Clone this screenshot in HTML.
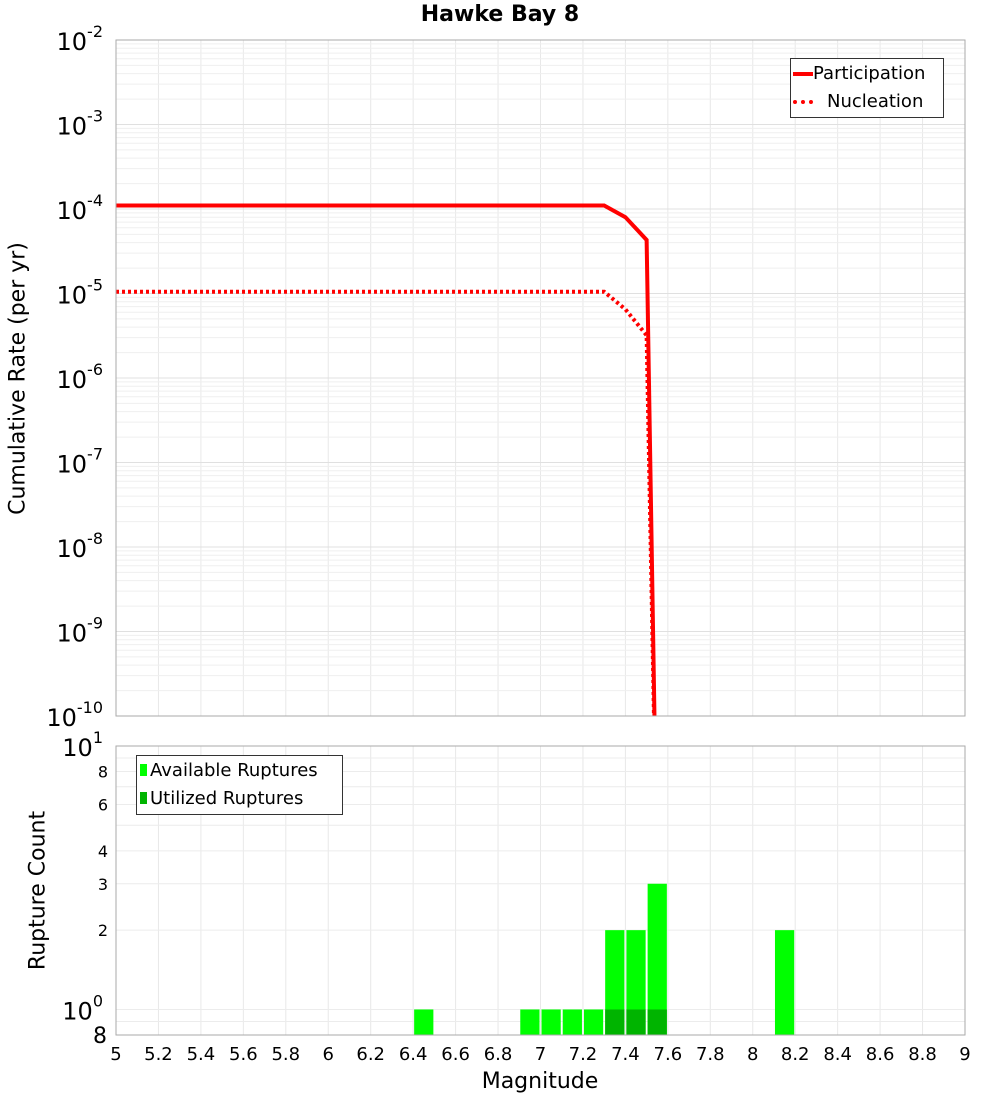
<!DOCTYPE html>
<html><head><meta charset="utf-8"><style>
body{margin:0;background:#fff;font-family:"DejaVu Sans","Liberation Sans",sans-serif}
svg{display:block}
svg text{font-family:"DejaVu Sans","Liberation Sans",sans-serif}
</style></head><body>
<svg id="c" width="1000" height="1100" xmlns="http://www.w3.org/2000/svg"></svg>
<script>
const mags=[5,7.3,7.4,7.5,7.55];
const participation=[1.1e-4,1.1e-4,8e-5,4.3e-5,1e-12];
const nucleation=[1.05e-5,1.05e-5,6.5e-6,3.2e-6,1e-12];
const binCenters=[6.45,6.95,7.05,7.15,7.25,7.35,7.45,7.55,8.15];
const available=[1,1,1,1,1,2,2,3,2];
const utilized=[0,0,0,0,0,1,1,1,0];
const xTicks=[5,5.2,5.4,5.6,5.8,6,6.2,6.4,6.6,6.8,7,7.2,7.4,7.6,7.8,8,8.2,8.4,8.6,8.8,9];
const topExps=[-2,-3,-4,-5,-6,-7,-8,-9,-10];
const botTicks=[2,3,4,6,8];

const NS="http://www.w3.org/2000/svg";
const svg=document.getElementById('c');
function mk(t,a,p){const e=document.createElementNS(NS,t);for(const k in a)e.setAttribute(k,a[k]);(p||svg).appendChild(e);return e;}
const L=116,R=965,T1=40,B1=716,T2=746,B2=1035;
const X=m=>L+(m-5)/4*(R-L);
const Y1=v=>T1+(-2-Math.log10(v))*(B1-T1)/8;
const lmin=Math.log10(0.8),lmax=1;
const Y2=v=>B2-(Math.log10(v)-lmin)/(lmax-lmin)*(B2-T2);

const g=mk('g',{});


for(const t of xTicks){const x=X(t);
 mk('line',{x1:x,x2:x,y1:T1,y2:B1,stroke:'#e8e8e8'},g);
 mk('line',{x1:x,x2:x,y1:T2,y2:B2,stroke:'#e8e8e8'},g);}
for(let e=-10;e<-2;e++)for(let k=1;k<10;k++){const y=Y1(k*Math.pow(10,e));
 mk('line',{x1:L,x2:R,y1:y,y2:y,stroke:k==1?'#e0e0e0':'#efefef'},g);}
for(const v of [0.8,0.9,1,2,3,4,5,6,7,8,9,10]){const y=Y2(v);
 mk('line',{x1:L,x2:R,y1:y,y2:y,stroke:'#ececec'},g);}

const bw=(R-L)/40;
binCenters.forEach((c,i)=>{
 const x=X(c)-bw/2+1,w=bw-2;
 const b=mk('rect',{x:x,y:Y2(available[i]),width:w,height:B2-Y2(available[i]),fill:'#00ff00'});
 
 
 if(utilized[i]>0){
  const u=mk('rect',{x:x,y:Y2(utilized[i]),width:w,height:B2-Y2(utilized[i]),fill:'#00b400'});
  
  }
});

const cp=mk('clipPath',{id:'cp'});mk('rect',{x:L,y:T1,width:R-L,height:B1-T1},cp);
function pts(a){return mags.map((m,i)=>X(m)+','+Y1(a[i])).join(' ');}
const pl=mk('polyline',{points:pts(participation),fill:'none',stroke:'#ff0000','stroke-width':4,'clip-path':'url(#cp)'});


const nl=mk('polyline',{points:pts(nucleation),fill:'none',stroke:'#ff0000','stroke-width':4,'stroke-dasharray':'3 3','clip-path':'url(#cp)'});



mk('rect',{x:L,y:T1,width:R-L,height:B1-T1,fill:'none',stroke:'#aaa'});
mk('rect',{x:L,y:T2,width:R-L,height:B2-T2,fill:'none',stroke:'#aaa'});

for(const t of xTicks){const tx=mk('text',{x:X(t),y:1060,'text-anchor':'middle','font-size':18});
 tx.textContent=String(t);
 
 }
for(const e of topExps){const tx=mk('text',{x:103,y:Y1(Math.pow(10,e))+10,'text-anchor':'end','font-size':24});
 tx.innerHTML='10<tspan dy="-13" font-size="16">'+e+'</tspan>';
 
 }
[[10,'10','1'],[1,'10','0']].forEach(([v,b,e])=>{const tx=mk('text',{x:103,y:Y2(v)+10,'text-anchor':'end','font-size':24});
 tx.innerHTML=b+'<tspan dy="-13" font-size="16">'+e+'</tspan>';
 
 });
for(const v of botTicks){const tx=mk('text',{x:108,y:Y2(v)+6,'text-anchor':'end','font-size':16});
 tx.textContent=String(v);
 
 }
const t8=mk('text',{x:107,y:1043,'text-anchor':'end','font-size':22});t8.textContent='8';


</script>
<div style="position:absolute;left:0;top:0;width:1000px;height:1100px;pointer-events:none">
<div style="position:absolute;left:0;width:1000px;top:2px;text-align:center;font-weight:bold;font-size:22px">Hawke Bay 8</div>
<div style="position:absolute;left:390px;width:300px;top:1069px;text-align:center;font-size:22px">Magnitude</div>
<div style="position:absolute;left:-132px;top:366px;width:300px;text-align:center;font-size:22px;transform:rotate(-90deg);white-space:nowrap">Cumulative Rate (per yr)</div>
<div style="position:absolute;left:-112px;top:878px;width:300px;text-align:center;font-size:22px;transform:rotate(-90deg)">Rupture Count</div>
<div style="position:absolute;left:790px;top:58px;width:152px;height:58px;border:1px solid #333;background:#fff;font-size:18px">
 <div style="position:absolute;left:2px;top:4px;white-space:nowrap"><span style="display:inline-block;width:20px;border-top:4px solid #f00;vertical-align:middle"></span>Participation</div>
 <div style="position:absolute;left:2px;top:32px;white-space:nowrap"><span style="display:inline-block;width:20px;border-top:4px dotted #f00;vertical-align:middle;margin-right:14px"></span>Nucleation</div>
</div>
<div style="position:absolute;left:136px;top:755px;width:205px;height:58px;border:1px solid #333;background:#fff;font-size:18px">
 <div style="position:absolute;left:3px;top:4px;white-space:nowrap"><span style="display:inline-block;width:7px;height:12px;background:#0f0;margin-right:3px"></span>Available Ruptures</div>
 <div style="position:absolute;left:3px;top:32px;white-space:nowrap"><span style="display:inline-block;width:7px;height:12px;background:#00b400;margin-right:3px"></span>Utilized Ruptures</div>
</div>
</div>
</body></html>
